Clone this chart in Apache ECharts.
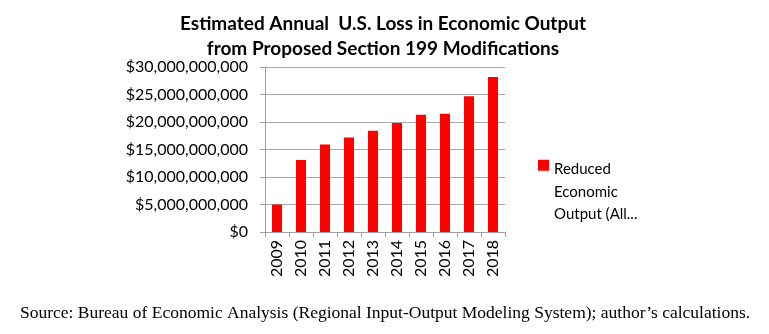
<!DOCTYPE html>
<html><head><meta charset="utf-8">
<script src="https://cdn.jsdelivr.net/npm/echarts@6/dist/echarts.min.js"></script>
<style>html,body{margin:0;padding:0;background:#fff}#c{width:769px;height:334px}</style>
</head><body><div id="c"></div>
<script>
const titleLines = ['Estimated Annual  U.S. Loss in Economic Output', 'from Proposed Section 199 Modifications'];
const categories = ['2009','2010','2011','2012','2013','2014','2015','2016','2017','2018'];
const seriesName = 'Reduced Economic Output (All...)';
const legendLines = ['Reduced', 'Economic', 'Output (All...'];
const values = [5.0e9, 13.1e9, 15.9e9, 17.2e9, 18.4e9, 19.8e9, 21.3e9, 21.5e9, 24.7e9, 28.2e9];
const yTicks = [0, 5e9, 10e9, 15e9, 20e9, 25e9, 30e9];
const sourceText = 'Source: Bureau of Economic Analysis (Regional Input-Output Modeling System); author\u2019s calculations.';

const chart = echarts.init(document.getElementById('c'));
const fmt = v => '$' + v.toLocaleString('en-US');
chart.setOption({
  animation: false,
  backgroundColor: '#fff',
  title: {
    text: titleLines.join('\n'),
    left: 378, top: 6, textAlign: 'center',
    textStyle: {fontFamily: 'Lato', fontWeight: 'bold', fontSize: 19, lineHeight: 25, color: '#000'}
  },
  legend: {
    left: 533, top: 153, orient: 'vertical',
    itemWidth: 11, itemHeight: 66, itemGap: 0,
    formatter: () => legendLines.join('\n'),
    textStyle: {fontFamily: 'Lato', fontSize: 15, lineHeight: 22.5, color: '#000'},
    data: [{name: seriesName, icon: 'path://M0,2L10,2L10,12L0,12Z M0,60L0.01,60L0,60.01Z'}]
  },
  grid: {left: 265, right: 264, top: 67, bottom: 102},
  xAxis: {
    type: 'category', data: categories,
    axisLine: {lineStyle: {color: '#a0a0a0'}},
    axisTick: {show: true, inside: false, length: 5, lineStyle: {color: '#a0a0a0'}},
    axisLabel: {rotate: 90, margin: 8, fontFamily: 'Lato', fontSize: 16, color: '#000'}
  },
  yAxis: {
    type: 'value', min: 0, max: 30e9, interval: 5e9,
    axisLine: {show: true, lineStyle: {color: '#a0a0a0'}},
    axisTick: {show: true, length: 5, lineStyle: {color: '#a0a0a0'}},
    splitLine: {lineStyle: {color: '#a8a8a8'}},
    axisLabel: {margin: 17, fontFamily: 'Lato', fontSize: 16, color: '#000', formatter: v => yTicks.includes(v) ? fmt(v) : ''}
  },
  graphic: [{
    type: 'text', left: 20, top: 304,
    style: {text: sourceText, fontFamily: 'Liberation Serif', fontSize: 17.5, fill: '#000'}
  }],
  series: [{
    name: seriesName, type: 'bar', data: values, barWidth: 10,
    itemStyle: {color: '#ff0000'}
  }]
});
</script></body></html>
